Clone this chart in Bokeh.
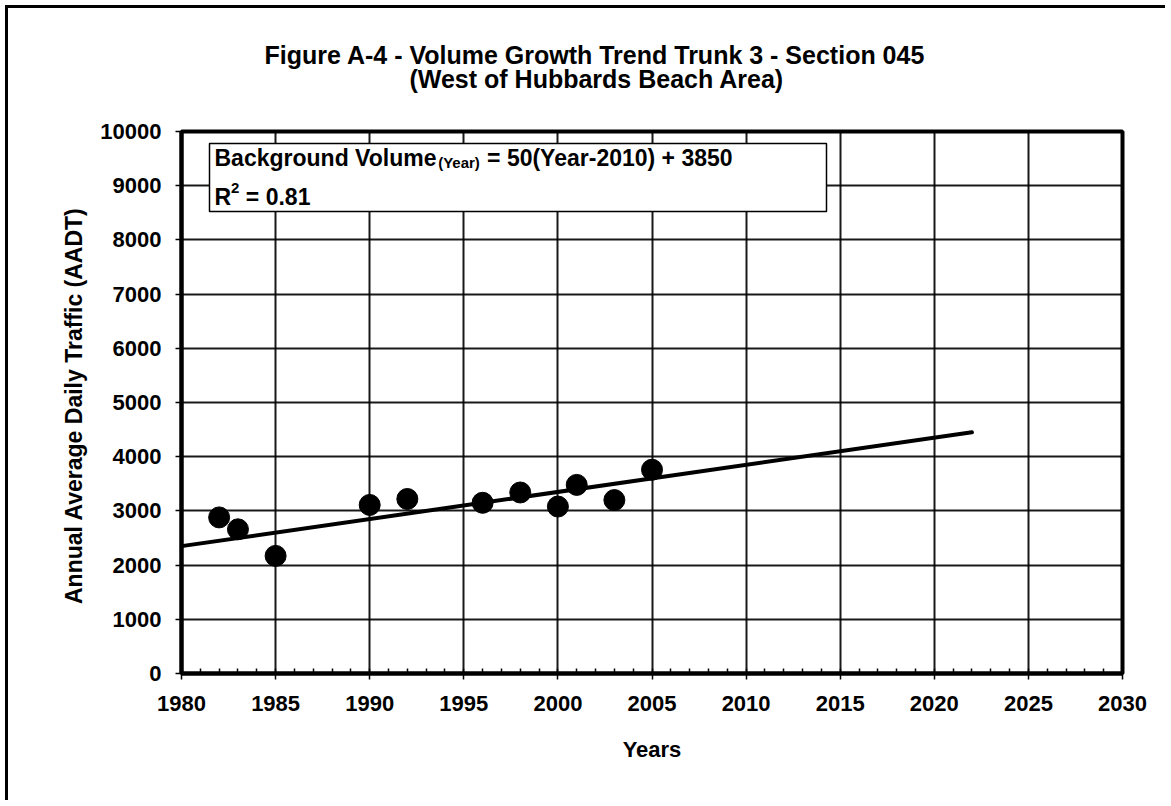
from bokeh.plotting import figure
from bokeh.models import Range1d, FixedTicker, BoxAnnotation, Label, Title, InlineStyleSheet
from bokeh.embed import file_html
from bokeh.resources import INLINE

# Observed annual average daily traffic counts
years = [1982, 1983, 1985, 1990, 1992, 1996, 1998, 2000, 2001, 2003, 2005]
aadt = [2880, 2660, 2170, 3110, 3220, 3150, 3340, 3080, 3480, 3200, 3760]

# Linear background growth: volume = slope * (year - base_year) + base_volume
trend_slope = 50
trend_base_year = 2010
trend_base_volume = 3850
trend_span = [1980, 2022]
r_squared = 0.81

x_major = [1980, 1985, 1990, 1995, 2000, 2005, 2010, 2015, 2020, 2025, 2030]
x_minor = list(range(1980, 2031))
y_major = [0, 1000, 2000, 3000, 4000, 5000, 6000, 7000, 8000, 9000, 10000]

title_line_1 = "Figure A-4 - Volume Growth Trend Trunk 3 - Section 045"
title_line_2 = "(West of Hubbards Beach Area)"
x_title = "Years"
y_title = "Annual Average Daily Traffic  (AADT)"

FONT = "Liberation Sans"

# Advance widths (per 1000 em) of the bold sans face, used to chain text pieces
ADV = {" ": 278, "B": 722, "a": 556, "c": 556, "k": 556, "g": 611, "r": 389,
       "o": 611, "u": 611, "n": 611, "d": 611, "V": 667, "l": 278, "m": 889,
       "e": 556, "(": 333, ")": 333, "Y": 667, "=": 584, "-": 333, "+": 584,
       ".": 278, "R": 722, "0": 556, "1": 556, "2": 556, "3": 556, "4": 556,
       "5": 556, "8": 556, "F": 611, "i": 278, "A": 722, "G": 778, "w": 778,
       "t": 333, "h": 611, "T": 611, "S": 667, "H": 722, "b": 611,
       "s": 556, "f": 333, "W": 944}


def text_width(s, size):
    return sum(ADV.get(ch, 556) for ch in s) * size / 1000.0


trend_volume = [trend_slope * (y - trend_base_year) + trend_base_volume for y in trend_span]

PAGE_W, PAGE_H = 1165, 800
FRAME_L, FRAME_R, FRAME_T, FRAME_B = 181, 1122, 131, 673

p = figure(width=PAGE_W, height=PAGE_H, output_backend="svg", toolbar_location=None,
           x_range=Range1d(1980, 2030), y_range=Range1d(0, 10000),
           min_border_left=FRAME_L, min_border_right=PAGE_W - FRAME_R,
           min_border_top=FRAME_T, min_border_bottom=PAGE_H - FRAME_B,
           background_fill_color="white", border_fill_alpha=0)
p.title = None
# Page border along the left and top edges, painted behind the transparent canvas
p.stylesheets = [InlineStyleSheet(css="""
:host {
  background-color: white;
  background-image: linear-gradient(#000, #000), linear-gradient(#000, #000);
  background-size: 3px 100%, 100% 3px;
  background-position: 5px 5px, 5px 5px;
  background-repeat: no-repeat;
}
""")]

p.outline_line_color = "black"
p.outline_line_width = 4
p.outline_line_alpha = 1

for ax in (p.xaxis[0], p.yaxis[0]):
    ax.axis_line_width = 4
    ax.axis_line_color = "black"
    ax.major_tick_line_color = "black"
    ax.major_tick_line_width = 1.5
    ax.major_tick_out = 6
    ax.major_tick_in = 0
    ax.major_label_text_font = FONT
    ax.major_label_text_font_size = "22px"
    ax.major_label_text_font_style = "bold"
    ax.major_label_text_color = "black"
    ax.axis_label_text_font = FONT
    ax.axis_label_text_font_size = "22px"
    ax.axis_label_text_font_style = "bold"
    ax.axis_label_text_color = "black"

p.xaxis.ticker = FixedTicker(ticks=x_major, minor_ticks=x_minor)
p.xaxis.minor_tick_in = 5
p.xaxis.minor_tick_out = 0
p.xaxis.minor_tick_line_color = "black"
p.xaxis.minor_tick_line_width = 1.5
p.xaxis.major_label_standoff = 16
p.xaxis.axis_label = x_title
p.xaxis.axis_label_standoff = 23

p.yaxis.ticker = FixedTicker(ticks=y_major)
p.yaxis.minor_tick_line_color = None
p.yaxis.major_label_standoff = 14
p.yaxis.axis_label = y_title
p.yaxis.axis_label_text_font_size = "23px"
p.yaxis.axis_label_standoff = 10

p.xgrid.ticker = FixedTicker(ticks=x_major)
p.ygrid.ticker = FixedTicker(ticks=y_major)
for g in (p.xgrid[0], p.ygrid[0]):
    g.grid_line_color = "black"
    g.grid_line_width = 2
    g.grid_line_alpha = 0.9

# Two-line heading, each line centred on x = 597 px; the lower line is kept
# clear of the frame and the upper one is pulled down close to it
HEAD_SIZE = 25
HEAD_CENTER = 597
for txt, standoff in ((title_line_2, 78), (title_line_1, -90)):
    start = HEAD_CENTER - text_width(txt, HEAD_SIZE) / 2.0
    p.add_layout(Title(text=txt, align="left", offset=round(start - FRAME_L),
                       text_font=FONT, text_font_size=f"{HEAD_SIZE}px",
                       text_font_style="bold", text_color="black",
                       standoff=standoff), "above")

# Trend line and observations
p.line(trend_span, trend_volume, line_color="black", line_width=4, line_cap="round")
p.scatter(years, aadt, size=21, marker="circle", fill_color="black", line_color="black")

# Pixel <-> data helpers for placing text relative to the frame
px_x = 50.0 / (FRAME_R - FRAME_L)
px_y = 10000.0 / (FRAME_B - FRAME_T)


def data_x(px):
    return 1980 + (px - FRAME_L) * px_x


def data_y(py):
    return (FRAME_B - py) * px_y


# Equation box
box_left, box_right, box_top, box_bottom = data_x(209), data_x(826), data_y(143), data_y(211)
p.add_layout(BoxAnnotation(left=box_left, right=box_right, top=box_top, bottom=box_bottom,
                           fill_color="white", fill_alpha=1, line_color="black",
                           line_alpha=1, line_width=1.5, level="overlay"))

main_size, small_size = 23, 15
line1_y, line2_y = data_y(157), data_y(196)
pad = 5


def put(text, x_px, y, size):
    p.add_layout(Label(x=box_left, y=y, x_offset=x_px, text=text, text_font=FONT,
                       text_font_size=f"{size}px", text_font_style="bold",
                       text_color="black", text_baseline="alphabetic", text_align="left",
                       level="overlay"))


piece_a = "Background Volume"
piece_b = "(Year)"
piece_c = f"= {trend_slope}(Year-{trend_base_year}) + {trend_base_volume}"
x = pad
put(piece_a, x, line1_y, main_size)
x += text_width(piece_a, main_size)
put(piece_b, x, line1_y - 5 * px_y, small_size)
x += text_width(piece_b, small_size) + text_width(" ", main_size)
put(piece_c, x, line1_y, main_size)

x = pad
put("R", x, line2_y, main_size)
x += text_width("R", main_size)
put("2", x, line2_y + 9 * px_y, small_size)
x += text_width("2", small_size) + text_width(" ", main_size)
put(f"= {r_squared:.2f}", x, line2_y, main_size)

open("out.html", "w").write(file_html(p, INLINE))
